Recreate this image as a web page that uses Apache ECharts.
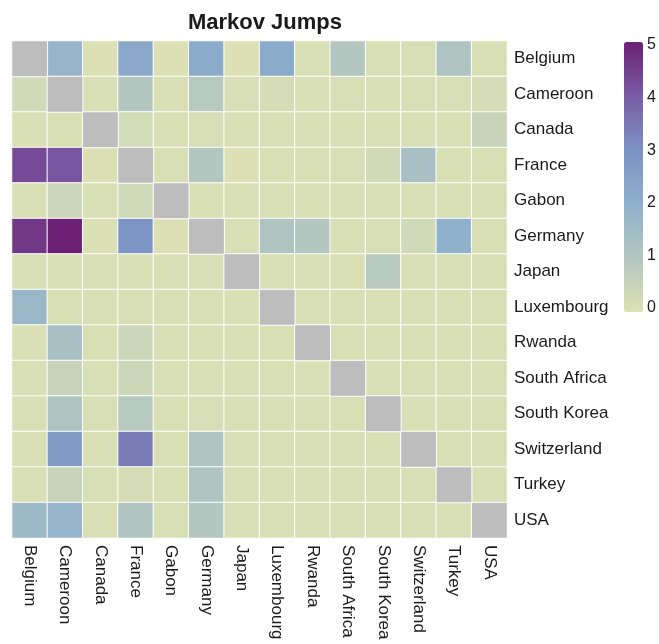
<!DOCTYPE html>
<html>
<head>
<meta charset="utf-8">
<script src="https://cdn.jsdelivr.net/npm/echarts@6/dist/echarts.min.js"></script>
<style>
  html, body { margin: 0; padding: 0; background: #ffffff; }
  #chart { width: 659px; height: 644px; }
</style>
</head>
<body>
<div id="chart"></div>
<script>
// Countries, used for both the "from" rows and the "to" columns
const countries = ['Belgium', 'Cameroon', 'Canada', 'France', 'Gabon', 'Germany', 'Japan',
  'Luxembourg', 'Rwanda', 'South Africa', 'South Korea', 'Switzerland', 'Turkey', 'USA'];

// Expected number of Markov jumps; row = from, column = to (null on the diagonal)
const jumpsBelgium     = [null, 1.8, 0.05, 2.3, 0.05, 2.2, 0.05, 2.2, 0.1, 1.0, 0.1, 0.15, 1.1, 0.1];
const jumpsCameroon    = [0.3, null, 0.1, 1.0, 0.1, 0.9, 0.15, 0.2, 0.1, 0.15, 0.1, 0.15, 0.15, 0.2];
const jumpsCanada      = [0.1, 0.1, null, 0.25, 0.1, 0.15, 0.1, 0.1, 0.1, 0.1, 0.1, 0.1, 0.1, 0.5];
const jumpsFrance      = [4.3, 4.1, 0.05, null, 0.1, 1.0, 0.05, 0.1, 0.1, 0.15, 0.3, 1.3, 0.1, 0.1];
const jumpsGabon       = [0.1, 0.4, 0.1, 0.3, null, 0.1, 0.1, 0.1, 0.1, 0.1, 0.1, 0.1, 0.1, 0.1];
const jumpsGermany     = [4.6, 5.0, 0.05, 2.9, 0.05, null, 0.1, 1.1, 1.0, 0.1, 0.15, 0.3, 2.0, 0.1];
const jumpsJapan       = [0.1, 0.1, 0.1, 0.1, 0.1, 0.1, null, 0.1, 0.1, 0.1, 0.9, 0.1, 0.1, 0.1];
const jumpsLuxembourg  = [1.7, 0.1, 0.1, 0.15, 0.1, 0.1, 0.1, null, 0.1, 0.1, 0.1, 0.1, 0.1, 0.1];
const jumpsRwanda      = [0.1, 1.3, 0.1, 0.4, 0.1, 0.1, 0.1, 0.1, null, 0.1, 0.1, 0.1, 0.1, 0.1];
const jumpsSouthAfrica = [0.1, 0.5, 0.1, 0.4, 0.1, 0.1, 0.1, 0.1, 0.1, null, 0.1, 0.1, 0.1, 0.1];
const jumpsSouthKorea  = [0.1, 1.1, 0.1, 0.9, 0.1, 0.15, 0.1, 0.1, 0.1, 0.1, null, 0.1, 0.1, 0.1];
const jumpsSwitzerland = [0.1, 2.7, 0.1, 3.4, 0.1, 1.1, 0.1, 0.1, 0.1, 0.1, 0.1, null, 0.1, 0.1];
const jumpsTurkey      = [0.1, 0.5, 0.1, 0.2, 0.1, 1.1, 0.1, 0.1, 0.1, 0.1, 0.1, 0.1, null, 0.1];
const jumpsUSA         = [1.6, 1.8, 0.1, 1.1, 0.1, 1.0, 0.1, 0.1, 0.1, 0.1, 0.1, 0.1, 0.1, null];

const jumpRows = [jumpsBelgium, jumpsCameroon, jumpsCanada, jumpsFrance, jumpsGabon, jumpsGermany,
  jumpsJapan, jumpsLuxembourg, jumpsRwanda, jumpsSouthAfrica, jumpsSouthKorea, jumpsSwitzerland,
  jumpsTurkey, jumpsUSA];

// Colour-scale tick labels
const scaleTicks = [0, 1, 2, 3, 4, 5];

// Split cells into valued cells and the empty diagonal
const valueCells = [];
const emptyCells = [];
jumpRows.forEach((row, r) => {
  row.forEach((v, c) => {
    if (v === null) emptyCells.push([c, r, 0]);
    else valueCells.push([c, r, v]);
  });
});

const font = '"Liberation Sans", Arial, Helvetica, sans-serif';
const textColor = '#1a1a1a';

const chart = echarts.init(document.getElementById('chart'), null, { renderer: 'canvas' });
chart.setOption({
  backgroundColor: '#ffffff',
  animation: false,
  title: {
    text: 'Markov Jumps',
    left: 260, top: 7, textAlign: 'center',
    textStyle: { fontFamily: font, fontSize: 22, fontWeight: 'bold', color: textColor }
  },
  grid: [
    { left: 12, top: 41, width: 495, height: 497 },
    { left: 624, top: 45, width: 19, height: 263 }
  ],
  xAxis: [
    {
      type: 'category', data: countries, gridIndex: 0, position: 'bottom',
      axisLine: { show: false }, axisTick: { show: false }, splitLine: { show: false },
      axisLabel: { rotate: -90, margin: 7, fontFamily: font, fontSize: 17, color: textColor, interval: 0 }
    },
    { type: 'value', gridIndex: 1, show: false, min: 0, max: 1 }
  ],
  yAxis: [
    {
      type: 'category', data: countries, gridIndex: 0, inverse: true, position: 'right',
      axisLine: { show: false }, axisTick: { show: false }, splitLine: { show: false },
      axisLabel: { margin: 7, fontFamily: font, fontSize: 17, color: textColor, interval: 0 }
    },
    {
      type: 'value', gridIndex: 1, position: 'right', min: scaleTicks[0],
      max: scaleTicks[scaleTicks.length - 1], interval: 1,
      axisLine: { show: false }, axisTick: { show: false }, splitLine: { show: false },
      axisLabel: { margin: 6, fontFamily: font, fontSize: 16, color: textColor }
    }
  ],
  visualMap: {
    type: 'continuous',
    seriesIndex: 0,
    min: scaleTicks[0], max: scaleTicks[scaleTicks.length - 1],
    left: 624, top: 42, itemWidth: 19, itemHeight: 270,
    padding: 0, calculable: false, text: null,
    hoverLink: false,
    inRange: { color: ['#dde2b4', '#b3c6c0', '#8fb1cc', '#7b92c4', '#7a5ca4', '#6b2074'] }
  },
  series: [
    {
      type: 'heatmap', xAxisIndex: 0, yAxisIndex: 0, data: valueCells,
      itemStyle: { borderColor: '#ffffff', borderWidth: 1 },
      emphasis: { disabled: true }
    },
    {
      type: 'heatmap', xAxisIndex: 0, yAxisIndex: 0, data: emptyCells,
      itemStyle: { color: '#bdbdbd', borderColor: '#ffffff', borderWidth: 1 },
      emphasis: { disabled: true }
    },
    { type: 'scatter', xAxisIndex: 1, yAxisIndex: 1, data: [], silent: true }
  ]
});
</script>
</body>
</html>
